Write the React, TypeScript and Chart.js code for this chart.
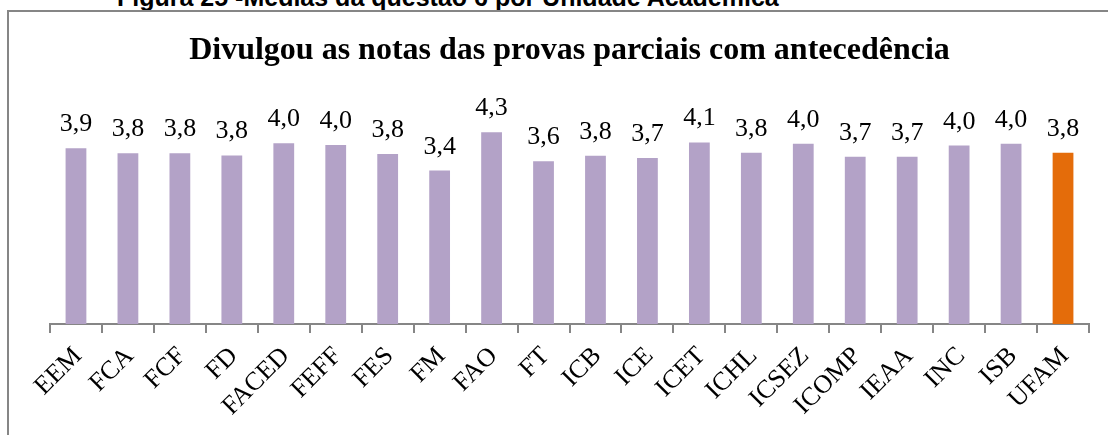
import React, { useEffect, useRef } from "react";
import { Chart, registerables } from "chart.js";

Chart.register(...registerables);

const CAPTION = "Figura 25 -Médias da questão 6 por Unidade Acadêmica";
const TITLE = "Divulgou as notas das provas parciais com antecedência";

const categories = [
  "EEM", "FCA", "FCF", "FD", "FACED", "FEFF", "FES", "FM", "FAO", "FT",
  "ICB", "ICE", "ICET", "ICHL", "ICSEZ", "ICOMP", "IEAA", "INC", "ISB", "UFAM",
];

const means = [
  3.93, 3.82, 3.82, 3.77, 4.04, 4.0, 3.8, 3.43, 4.29, 3.64,
  3.76, 3.71, 4.06, 3.83, 4.03, 3.74, 3.74, 3.99, 4.03, 3.83,
];

const yTicks = { min: 0, max: 5 };

const PURPLE = "#B3A2C7";
const ORANGE = "#E46C0A";
const AXIS = "#868686";
const SERIF = "'Liberation Serif', 'Times New Roman', Times, serif";

const barColors = categories.map((c) => (c === "UFAM" ? ORANGE : PURPLE));

const fmt = (v: number) => v.toFixed(1).replace(".", ",");

const valueLabels = {
  id: "valueLabels",
  afterDatasetsDraw(chart: any) {
    const ctx = chart.ctx;
    const meta = chart.getDatasetMeta(0);
    ctx.save();
    let fontStr = `26px ${SERIF}`;
    try {
      const f = chart.scales.x._resolveTickFontOptions(0);
      if (f && f.string) fontStr = f.string;
    } catch (e) {}
    ctx.font = fontStr;
    ctx.fillStyle = "#000";
    ctx.textAlign = "center";
    ctx.textBaseline = "alphabetic";
    meta.data.forEach((el: any, i: number) => {
      ctx.fillText(fmt(means[i]), el.x, el.y - 17);
    });
    ctx.restore();
  },
};

export default function App() {
  const ref = useRef<HTMLCanvasElement>(null);
  useEffect(() => {
    if (!ref.current) return;
    const chart = new Chart(ref.current, {
      type: "bar",
      data: {
        labels: categories,
        datasets: [
          {
            data: means,
            backgroundColor: barColors,
            barPercentage: 0.4,
            categoryPercentage: 1,
          },
        ],
      },
      options: {
        animation: false,
        responsive: false,
        maintainAspectRatio: false,
        layout: { padding: { left: 42, right: 19, top: 0, bottom: 0 } },
        plugins: {
          legend: { display: false },
          tooltip: { enabled: false },
          title: {
            display: true,
            text: TITLE,
            color: "#000",
            font: { family: SERIF, size: 32, weight: "bold" },
            padding: { top: 24, bottom: 30 },
          },
        },
        scales: {
          x: {
            offset: true,
            border: { display: true, color: AXIS, width: 2 },
            grid: {
              display: true,
              offset: true,
              drawOnChartArea: false,
              drawTicks: true,
              tickLength: 9,
              color: AXIS,
              lineWidth: 2,
            },
            ticks: {
              autoSkip: false,
              minRotation: 45,
              maxRotation: 45,
              color: "#000",
              padding: 8,
              labelOffset: 2,
              font: { family: SERIF, size: 26 },
            },
            afterFit: (scale: any) => {
              scale.height = 111;
            },
          },
          y: {
            display: false,
            min: yTicks.min,
            max: yTicks.max,
          },
        },
      },
      plugins: [valueLabels],
    });
    return () => chart.destroy();
  }, []);

  return (
    <div
      style={{
        position: "fixed",
        left: 0,
        top: 0,
        width: 1108,
        height: 435,
        overflow: "hidden",
        background: "#fff",
      }}
    >
      <div
        style={{
          position: "absolute",
          left: 117,
          top: -15,
          font: "bold 25px 'Liberation Sans', Arial, sans-serif",
          lineHeight: "24px",
          whiteSpace: "nowrap",
          color: "#000",
        }}
      >
        {CAPTION}
      </div>
      <div
        style={{
          position: "absolute",
          left: 7,
          top: 10,
          width: 1200,
          height: 600,
          border: `2px solid ${AXIS}`,
          boxSizing: "border-box",
        }}
      />
      <canvas
        ref={ref}
        width={1100}
        height={427}
        style={{ position: "absolute", left: 8, top: 8, width: 1100, height: 427 }}
      />
    </div>
  );
}
